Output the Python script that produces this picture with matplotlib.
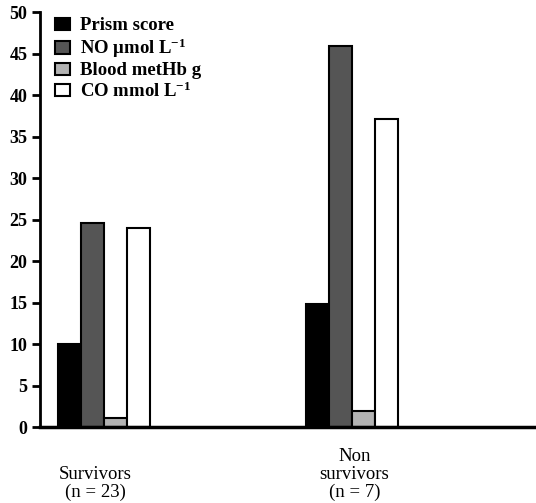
import numpy as np
import matplotlib
matplotlib.use('Agg')
import matplotlib.pyplot as plt

# DATA
# ----
groups = ['Survivors\n(n = 23)', 'Non\nsurvivors\n(n = 7)']
series = ['Prism score', 'NO \u03bcmol L$^{-1}$', 'Blood metHb g', 'CO mmol L$^{-1}$']
prism_score = [10.0, 14.8]
no_umol = [24.6, 45.9]
blood_methb = [1.1, 1.9]
co_mmol = [24.0, 37.2]
yticks = [0, 5, 10, 15, 20, 25, 30, 35, 40, 45, 50]

# STYLE
# -----
plt.rcParams['font.family'] = ['Liberation Serif', 'DejaVu Serif']
plt.rcParams['mathtext.default'] = 'regular'
colors = ['#000000', '#555555', '#b3b3b3', '#ffffff']
bar_width = 0.093

fig = plt.figure(figsize=(5.36, 5.03), dpi=100)
ax = fig.add_axes([40 / 536, 76 / 503, 496 / 536, 414.5 / 503])

x = np.arange(len(groups))
values = [prism_score, no_umol, blood_methb, co_mmol]
for i, (label, vals, col) in enumerate(zip(series, values, colors)):
    offset = (i - 1.5) * bar_width
    ax.bar(x + offset, vals, bar_width, color=col, edgecolor='black',
           linewidth=1.5, label=label, zorder=2)

ax.set_xlim(-0.258, 1.742)
ax.set_ylim(0, 50)
ax.set_yticks(yticks)
ax.set_yticklabels([str(t) for t in yticks], fontsize=13, fontweight='bold')
ax.tick_params(axis='y', direction='out', length=6, width=2, pad=3)
ax.set_xticks([])

for side in ['top', 'right']:
    ax.spines[side].set_visible(False)
ax.spines['left'].set_linewidth(2)
ax.spines['bottom'].set_linewidth(2.5)

# group labels, bottom aligned so the last lines line up
label_shift = [-0.035, 0.01]
for xi, name, dx in zip(x, groups, label_shift):
    ax.text(xi + dx, -0.178, name, transform=ax.get_xaxis_transform(),
            ha='center', va='bottom', fontsize=13.5, linespacing=1.05)

leg = ax.legend(loc='upper left', bbox_to_anchor=(0.03, 0.988), frameon=False,
                borderpad=0, borderaxespad=0, handlelength=0.8, handleheight=0.62,
                handletextpad=0.55, labelspacing=0.12,
                prop={'size': 13.5, 'weight': 'bold'})

fig.savefig('out.png', dpi=100)
